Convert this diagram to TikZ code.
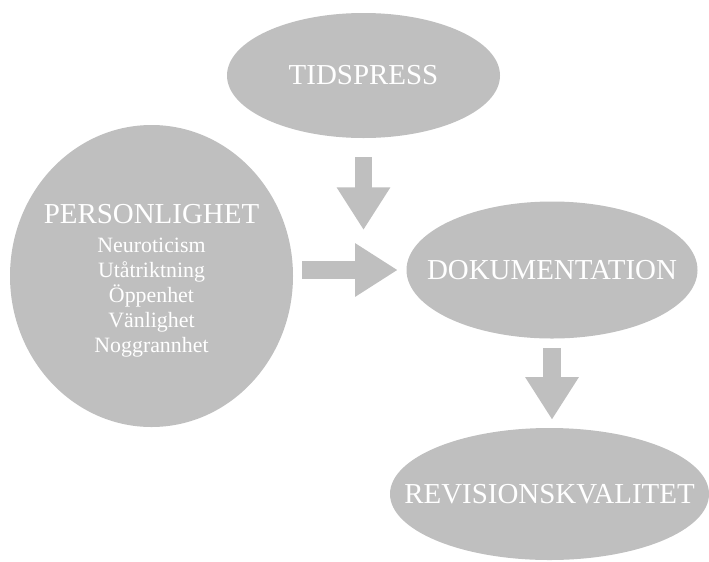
\documentclass[tikz,border=0pt]{standalone}
\usepackage{fontspec}
\setmainfont{Liberation Serif}
\usetikzlibrary{arrows.meta,shapes.geometric}

\definecolor{blobgray}{RGB}{191,191,191}

\tikzset{
    blob/.style={ellipse, fill=blobgray, inner sep=0pt},
    heading/.style={text=white, font=\fontsize{21.7}{25}\selectfont},
    traits/.style={text=white, align=center, font=\fontsize{16.4}{18.75}\selectfont},
    bigarrow/.style={color=blobgray, line width=13pt,
        -{Triangle[length=32pt, width=38pt]}},
}

\begin{document}
\begin{tikzpicture}[x=0.75pt, y=-0.75pt]
    \useasboundingbox (0,0) rectangle (709,561);

    % Nodes {tids, pers, dok, rev}
    \node [blob, minimum width=204.75pt, minimum height=93.75pt,
           label={[heading]center:TIDSPRESS}]            (tids)  at (363.5,75.5)  {};
    \node [blob, minimum width=212.25pt, minimum height=226.5pt,
           label={[traits, yshift=-3.5pt]center:{{\fontsize{21.7}{25}\selectfont PERSONLIGHET}\\[3.5pt]
               Neuroticism\\Utåtriktning\\Öppenhet\\Vänlighet\\Noggrannhet}}]
                                                         (pers)  at (151.5,276)   {};
    \node [blob, minimum width=218.25pt, minimum height=102.75pt,
           label={[heading]center:DOKUMENTATION}]        (dok)   at (552,270)     {};
    \node [blob, minimum width=239.25pt, minimum height=99pt,
           label={[heading]center:REVISIONSKVALITET}]    (rev)   at (549.5,494)   {};

    % Paths
    \path [bigarrow, shorten <=14.25pt, shorten >=30pt]  (tids.south)           edge (tids.south |- dok.center);
    \path [bigarrow, shorten <=6.75pt, shorten >=6.4pt]  (pers.east |- dok.west) edge (dok.west);
    \path [bigarrow, shorten <=7pt, shorten >=6pt]       (dok.south)            edge (dok.south |- rev.north);

\end{tikzpicture}
\end{document}
